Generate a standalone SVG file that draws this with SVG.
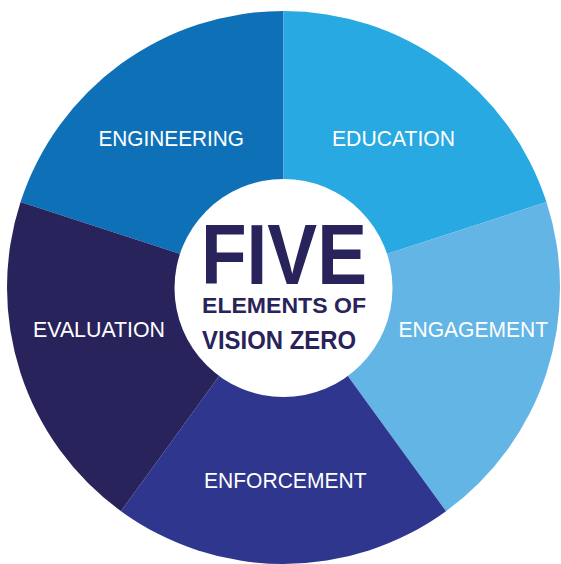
<svg xmlns="http://www.w3.org/2000/svg" width="561" height="564" viewBox="0 0 561 564">
<style>
.lbl{font-family:"Liberation Sans",Arial,sans-serif;font-size:21.5px;fill:#ffffff;}
.ctr{font-family:"Liberation Sans",Arial,sans-serif;font-weight:bold;fill:#29235C;}
</style>
<rect width="561" height="564" fill="#ffffff"/>
<g id="engineering">
<path d="M283.5,287.5 L20.53,202.06 A276.5,276.5 0 0 1 283.5,11 Z" fill="#0E71B8"/>
<text class="lbl" x="98.5" y="145.7" textLength="145.5" lengthAdjust="spacingAndGlyphs">ENGINEERING</text>
</g>
<g id="education">
<path d="M283.5,287.5 L283.5,11 A276.5,276.5 0 0 1 546.47,202.06 Z" fill="#29A9E1"/>
<text class="lbl" x="332" y="145.7" textLength="123" lengthAdjust="spacingAndGlyphs">EDUCATION</text>
</g>
<g id="engagement">
<path d="M283.5,287.5 L546.47,202.06 A276.5,276.5 0 0 1 446.02,511.19 Z" fill="#63B5E5"/>
<text class="lbl" x="398.5" y="336.7" textLength="149.5" lengthAdjust="spacingAndGlyphs">ENGAGEMENT</text>
</g>
<g id="enforcement">
<path d="M283.5,287.5 L446.02,511.19 A276.5,276.5 0 0 1 120.98,511.19 Z" fill="#2E368E"/>
<text class="lbl" x="204" y="487.7" textLength="162.5" lengthAdjust="spacingAndGlyphs">ENFORCEMENT</text>
</g>
<g id="evaluation">
<path d="M283.5,287.5 L120.98,511.19 A276.5,276.5 0 0 1 20.53,202.06 Z" fill="#29235C"/>
<text class="lbl" x="33" y="336.7" textLength="132" lengthAdjust="spacingAndGlyphs">EVALUATION</text>
</g>
<g id="center">
<circle cx="283.5" cy="288" r="109" fill="#ffffff"/>
<text class="ctr" x="201" y="284" font-size="85" textLength="166" lengthAdjust="spacingAndGlyphs">FIVE</text>
<text class="ctr" x="202" y="313" font-size="22.5" textLength="164" lengthAdjust="spacingAndGlyphs">ELEMENTS OF</text>
<text class="ctr" x="202" y="349" font-size="26" textLength="154" lengthAdjust="spacingAndGlyphs">VISION ZERO</text>
</g>
<g id="connectors"></g>
</svg>
